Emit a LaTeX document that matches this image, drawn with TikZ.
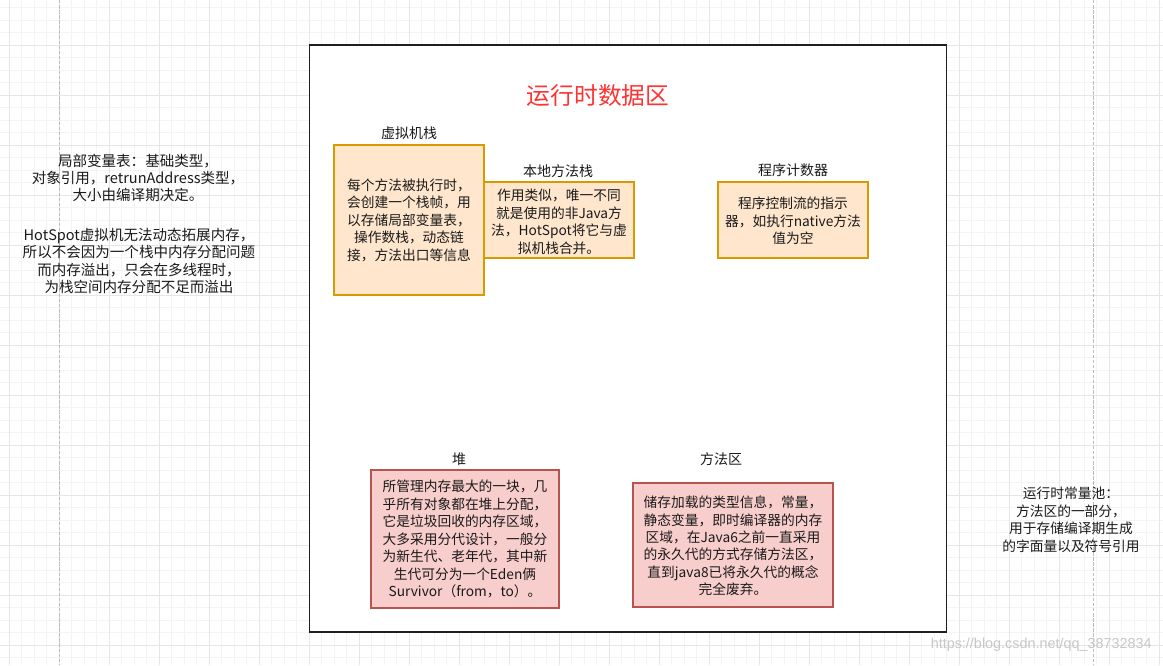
\documentclass[tikz,border=0pt]{standalone}
\usepackage{fontspec}
\setmainfont{Noto Sans CJK SC}
\newfontfamily\wmfont{Liberation Sans}
\definecolor{gridminor}{HTML}{F4F4F4}
\definecolor{gridmajor}{HTML}{E6E6E6}
\definecolor{orfill}{HTML}{FFE6CC}
\definecolor{ordraw}{HTML}{D79B00}
\definecolor{rdfill}{HTML}{F8CECC}
\definecolor{rddraw}{HTML}{B85450}
\definecolor{titlered}{HTML}{FF3333}
\definecolor{txt}{HTML}{1A1A1A}
\definecolor{dashgray}{HTML}{BDBDBD}
\tikzset{
  bodytext/.style={font=\fontsize{10.3}{13.1}\selectfont, text=txt, align=center, inner sep=0pt},
  sidetext/.style={font=\fontsize{10.9}{13.0}\selectfont, text=txt, align=center, inner sep=0pt},
  labeltext/.style={font=\fontsize{10.5}{13}\selectfont, text=txt, inner sep=0pt},
  orbox/.style={draw=ordraw, fill=orfill, line width=0.9pt, inner sep=0pt},
  rdbox/.style={draw=rddraw, fill=rdfill, line width=0.9pt, inner sep=0pt},
  gminor/.style={draw=gridminor, line width=0.6pt},
  gmajor/.style={draw=gridmajor, line width=0.75pt},
  guide/.style={draw=dashgray, line width=1.1pt, dash pattern=on 2.6pt off 1.2pt},
}
\begin{document}
\begin{tikzpicture}[x=0.75pt, y=-0.75pt]
\fill[white] (0,0) rectangle (1163,665);
\useasboundingbox (0,0) rectangle (1163,665);
% grid
\foreach \i in {0,...,92} {\pgfmathsetmacro\gx{9.3+12.5*\i}\draw[gminor] (\gx,0) -- (\gx,665);}
\foreach \i in {0,...,52} {\pgfmathsetmacro\gy{7.5+12.5*\i}\draw[gminor] (0,\gy) -- (1163,\gy);}
\foreach \i in {0,...,23} {\pgfmathsetmacro\gx{9.3+50*\i}\draw[gmajor] (\gx,0) -- (\gx,665);}
\foreach \i in {0,...,12} {\pgfmathsetmacro\gy{45+50*\i}\draw[gmajor] (0,\gy) -- (1163,\gy);}
% guides
\coordinate (gl1) at (59.3,0); \coordinate (gl2) at (59.3,665);
\coordinate (gr1) at (1093.3,0); \coordinate (gr2) at (1093.3,665);
\draw[guide] (gl1) -- (gl2);
\draw[guide] (gr1) -- (gr2);
% frame
\draw[fill=white, draw=black!88, line width=1.2pt] (309.3,45) rectangle (946.5,632);
\node[font=\fontsize{17.8}{20}\selectfont, text=titlered, inner sep=0pt] (title) at (598,96) {运行时数据区};
% boxes
\node[labeltext] (lblvm) at (409,133) {虚拟机栈};
\node[orbox, minimum width=150*0.75pt, minimum height=150*0.75pt] (vm) at (409,220) {};
\node[bodytext] (vmtxt) at (409,220) {每个方法被执行时，\\会创建一个栈帧，用\\以存储局部变量表，\\操作数栈，动态链\\接，方法出口等信息};

\node[labeltext] (lblnat) at (558,171) {本地方法栈};
\node[orbox, minimum width=150*0.75pt, minimum height=76*0.75pt] (nat) at (559,220) {};
\node[bodytext] (nattxt) at (559,222) {作用类似，唯一不同\\就是使用的非Java方\\法，HotSpot将它与虚\\拟机栈合并。};

\node[labeltext] (lblpc) at (793,170) {程序计数器};
\node[orbox, minimum width=150*0.75pt, minimum height=76*0.75pt] (pc) at (793,220) {};
\node[bodytext] (pctxt) at (793,221) {程序控制流的指示\\器，如执行native方法\\值为空};

\node[labeltext] (lblheap) at (459,459) {堆};
\node[rdbox, minimum width=188*0.75pt, minimum height=138*0.75pt] (heap) at (465,539) {};
\node[bodytext] (heaptxt) at (465,539) {所管理内存最大的一块，几\\乎所有对象都在堆上分配，\\它是垃圾回收的内存区域，\\大多采用分代设计，一般分\\为新生代、老年代，其中新\\生代可分为一个Eden俩\\Survivor（from，to）。};

\node[labeltext] (lblma) at (721,459) {方法区};
\node[rdbox, minimum width=200*0.75pt, minimum height=124*0.75pt] (ma) at (733,545) {};
\node[bodytext] (matxt) at (733,546) {储存加载的类型信息，常量，\\静态变量，即时编译器的内存\\区域，在Java6之前一直采用\\的永久代的方式存储方法区，\\直到java8已将永久代的概念\\完全废弃。};

% side notes
\node[sidetext] (left1) at (138,178) {局部变量表：基础类型，\\对象引用，retrunAddress类型，\\大小由编译期决定。};
\node[sidetext] (left2) at (139,261) {HotSpot虚拟机无法动态拓展内存，\\所以不会因为一个栈中内存分配问题\\而内存溢出，只会在多线程时，\\为栈空间内存分配不足而溢出};
\node[bodytext] (right1) at (1071,520) {运行时常量池：\\方法区的一部分，\\用于存储编译期生成\\的字面量以及符号引用};

% watermark
\node[font=\wmfont\fontsize{10.8}{12}\selectfont, text=black!22, inner sep=0pt, anchor=east] (wm) at (1152,645) {https://blog.csdn.net/qq\_38732834};
\end{tikzpicture}
\end{document}
